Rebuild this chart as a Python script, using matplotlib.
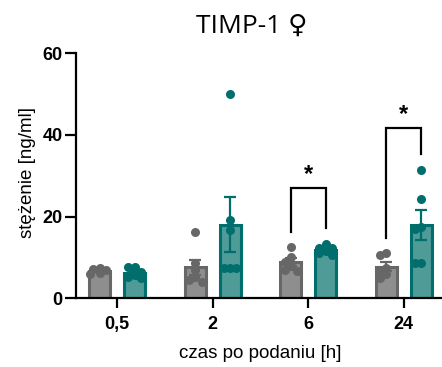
import numpy as np
import matplotlib
matplotlib.use("Agg")
import matplotlib.pyplot as plt

plt.rcParams["font.family"] = ["Liberation Sans", "DejaVu Sans"]

# --- data -------------------------------------------------------------
time_labels = ["0,5", "2", "6", "24"]

# TIMP-1 concentration [ng/ml], individual animals per time point
grey_values = [
    [7.3, 7.1, 6.9, 6.6, 6.3, 6.0],
    [16.3, 8.6, 7.0, 5.2, 4.0, 4.5],
    [12.6, 10.2, 9.0, 7.8, 7.0, 6.8],
    [11.0, 10.6, 7.5, 6.5, 6.0, 5.0],
]
teal_values = [
    [7.6, 7.6, 6.4, 5.2, 4.9, 5.8],
    [50.0, 19.2, 16.7, 7.4, 7.3, 7.5],
    [13.3, 12.4, 12.2, 11.5, 10.5, 11.0],
    [31.4, 24.2, 17.5, 17.0, 8.6, 8.7],
]

# significance brackets: (time index, bracket height, star label)
significance = [(2, 26.9, "*"), (3, 41.6, "*")]

# --- styling ----------------------------------------------------------
GREY_EDGE, GREY_FILL = "#676767", "#8e8e8e"
TEAL_EDGE, TEAL_FILL = "#006e6c", "#4e9b97"
BAR_W = 0.22
OFFSET = 0.1825

fig = plt.figure(figsize=(4.42, 3.67), dpi=100)
ax = fig.add_axes([76 / 442, 1 - 298.3 / 367, 1 - 76 / 442 - 0.002, (298.3 - 53.3) / 367])
ax.set_xlim(-0.43, 3.39)
ax.set_ylim(0, 60)

x = np.arange(len(time_labels))


def swarm_offsets(values, center, marker_px):
    """Spread points horizontally so markers overlap only partly."""
    trans = ax.transData
    placed = []
    offsets = np.zeros(len(values))
    order = np.argsort(values)[::-1]
    step_px = marker_px * 0.35
    px_per_unit_x = trans.transform((1, 0))[0] - trans.transform((0, 0))[0]
    for i in order:
        yp = trans.transform((center, values[i]))[1]
        xp = 0.0
        for k in [0, -2, 2, -1, 1, -3, 3]:
            cand = k * step_px
            if all(np.hypot(cand - px, yp - py) >= marker_px * 0.55 for px, py in placed):
                xp = cand
                break
        placed.append((xp, yp))
        offsets[i] = xp / px_per_unit_x
    return offsets


def draw_group(values, pos, edge, fill):
    vals = np.asarray(values, dtype=float)
    mean = vals.mean()
    sem = vals.std(ddof=1) / np.sqrt(len(vals))
    ax.bar(pos, mean, width=BAR_W, color=fill, edgecolor=edge, linewidth=2.2, zorder=2)
    offs = swarm_offsets(vals, pos, 9)
    ax.plot(pos + offs, vals, "o", color=edge, markersize=6.5, markeredgewidth=0, zorder=3)
    ax.errorbar(pos, mean, yerr=sem, fmt="none", ecolor=edge, elinewidth=1.6,
                capsize=4.5, capthick=1.6, zorder=4)


for i in range(len(time_labels)):
    draw_group(grey_values[i], x[i] - OFFSET, GREY_EDGE, GREY_FILL)
    draw_group(teal_values[i], x[i] + OFFSET, TEAL_EDGE, TEAL_FILL)

# significance brackets
for idx, top, label in significance:
    xl, xr = x[idx] - OFFSET, x[idx] + OFFSET
    yl = max(grey_values[idx]) + 3.7
    yr = max(teal_values[idx]) + 3.9
    ax.plot([xl, xl, xr, xr], [yl, top, top, yr], color="black", linewidth=1.6,
            solid_joinstyle="miter", zorder=5)
    ax.text(x[idx], top + 1.8, label, ha="center", va="baseline",
            fontsize=17, fontweight="bold", color="black")

# axes styling
for side in ("top", "right"):
    ax.spines[side].set_visible(False)
for side in ("left", "bottom"):
    ax.spines[side].set_linewidth(1.6)
ax.set_yticks([0, 20, 40, 60])
ax.set_xticks(x)
ax.set_xticklabels(time_labels)
ax.tick_params(axis="y", length=8, width=1.6, pad=1.5, labelsize=13)
ax.tick_params(axis="x", length=7, width=1.6, pad=6, labelsize=13)
for lab in ax.get_xticklabels() + ax.get_yticklabels():
    lab.set_fontweight("bold")

fig.text(260 / 442, 1 - 354 / 367, "czas po podaniu [h]", ha="center", va="center", fontsize=13.5)
fig.text(27 / 442, 1 - 173 / 367, "stężenie [ng/ml]", ha="center", va="center",
         rotation=90, fontsize=13.5)
fig.text(252 / 442, 1 - 33 / 367, "TIMP-1 ♀", ha="center", va="baseline",
         fontsize=19, family=["Open Sans", "DejaVu Sans"])

fig.savefig("out.png", dpi=100)
